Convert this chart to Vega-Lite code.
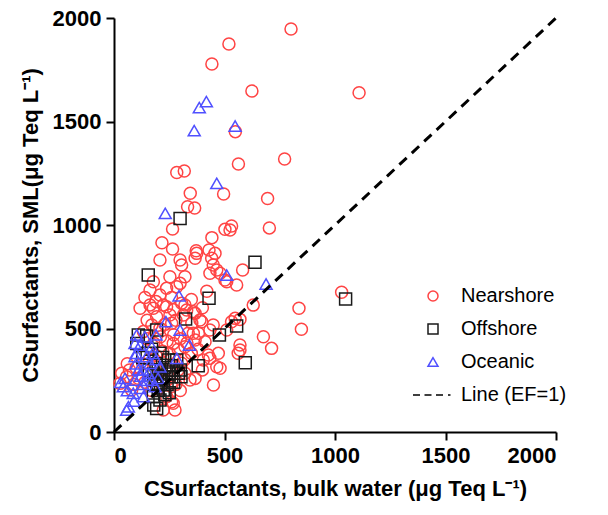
{
  "$schema": "https://vega.github.io/schema/vega-lite/v6.json",
  "width": 442,
  "height": 414,
  "autosize": "none",
  "padding": {"left": 114, "top": 18, "right": 52, "bottom": 83},
  "background": "white",
  "config": {
    "view": {"stroke": null},
    "font": "Liberation Sans",
    "axis": {
      "grid": false,
      "domainColor": "black",
      "domainWidth": 2,
      "tickColor": "black",
      "tickWidth": 2,
      "tickSize": 8,
      "labelFont": "Liberation Sans",
      "labelFontSize": 22,
      "labelFontWeight": "bold",
      "labelColor": "black",
      "titleFont": "Liberation Sans",
      "titleFontSize": 22,
      "titleFontWeight": "bold",
      "titleColor": "black"
    }
  },
  "datasets": {
    "pts": [
      {"x": 801, "y": 1947, "g": "Nearshore"},
      {"x": 520, "y": 1874, "g": "Nearshore"},
      {"x": 443, "y": 1778, "g": "Nearshore"},
      {"x": 624, "y": 1647, "g": "Nearshore"},
      {"x": 549, "y": 1451, "g": "Nearshore"},
      {"x": 1109, "y": 1639, "g": "Nearshore"},
      {"x": 772, "y": 1319, "g": "Nearshore"},
      {"x": 563, "y": 1295, "g": "Nearshore"},
      {"x": 284, "y": 1254, "g": "Nearshore"},
      {"x": 318, "y": 1261, "g": "Nearshore"},
      {"x": 496, "y": 1150, "g": "Nearshore"},
      {"x": 345, "y": 1153, "g": "Nearshore"},
      {"x": 695, "y": 1128, "g": "Nearshore"},
      {"x": 333, "y": 1088, "g": "Nearshore"},
      {"x": 365, "y": 1082, "g": "Nearshore"},
      {"x": 265, "y": 981, "g": "Nearshore"},
      {"x": 703, "y": 986, "g": "Nearshore"},
      {"x": 502, "y": 979, "g": "Nearshore"},
      {"x": 525, "y": 976, "g": "Nearshore"},
      {"x": 532, "y": 995, "g": "Nearshore"},
      {"x": 443, "y": 939, "g": "Nearshore"},
      {"x": 217, "y": 914, "g": "Nearshore"},
      {"x": 265, "y": 884, "g": "Nearshore"},
      {"x": 372, "y": 876, "g": "Nearshore"},
      {"x": 430, "y": 879, "g": "Nearshore"},
      {"x": 457, "y": 863, "g": "Nearshore"},
      {"x": 208, "y": 831, "g": "Nearshore"},
      {"x": 299, "y": 831, "g": "Nearshore"},
      {"x": 442, "y": 839, "g": "Nearshore"},
      {"x": 1030, "y": 675, "g": "Nearshore"},
      {"x": 837, "y": 598, "g": "Nearshore"},
      {"x": 848, "y": 496, "g": "Nearshore"},
      {"x": 676, "y": 460, "g": "Nearshore"},
      {"x": 713, "y": 404, "g": "Nearshore"},
      {"x": 630, "y": 613, "g": "Nearshore"},
      {"x": 570, "y": 544, "g": "Nearshore"},
      {"x": 548, "y": 549, "g": "Nearshore"},
      {"x": 532, "y": 533, "g": "Nearshore"},
      {"x": 570, "y": 420, "g": "Nearshore"},
      {"x": 570, "y": 396, "g": "Nearshore"},
      {"x": 465, "y": 315, "g": "Nearshore"},
      {"x": 480, "y": 308, "g": "Nearshore"},
      {"x": 450, "y": 227, "g": "Nearshore"},
      {"x": 344, "y": 251, "g": "Nearshore"},
      {"x": 261, "y": 146, "g": "Nearshore"},
      {"x": 223, "y": 106, "g": "Nearshore"},
      {"x": 404, "y": 348, "g": "Nearshore"},
      {"x": 427, "y": 372, "g": "Nearshore"},
      {"x": 434, "y": 493, "g": "Nearshore"},
      {"x": 449, "y": 517, "g": "Nearshore"},
      {"x": 510, "y": 726, "g": "Nearshore"},
      {"x": 480, "y": 767, "g": "Nearshore"},
      {"x": 449, "y": 807, "g": "Nearshore"},
      {"x": 555, "y": 710, "g": "Nearshore"},
      {"x": 582, "y": 783, "g": "Nearshore"},
      {"x": 374, "y": 863, "g": "Nearshore"},
      {"x": 306, "y": 807, "g": "Nearshore"},
      {"x": 321, "y": 750, "g": "Nearshore"},
      {"x": 253, "y": 750, "g": "Nearshore"},
      {"x": 163, "y": 686, "g": "Nearshore"},
      {"x": 238, "y": 694, "g": "Nearshore"},
      {"x": 299, "y": 718, "g": "Nearshore"},
      {"x": 118, "y": 598, "g": "Nearshore"},
      {"x": 178, "y": 598, "g": "Nearshore"},
      {"x": 238, "y": 605, "g": "Nearshore"},
      {"x": 306, "y": 622, "g": "Nearshore"},
      {"x": 359, "y": 581, "g": "Nearshore"},
      {"x": 389, "y": 541, "g": "Nearshore"},
      {"x": 359, "y": 477, "g": "Nearshore"},
      {"x": 57, "y": 267, "g": "Nearshore"},
      {"x": 27, "y": 235, "g": "Nearshore"},
      {"x": 80, "y": 203, "g": "Nearshore"},
      {"x": 178, "y": 726, "g": "Nearshore"},
      {"x": 284, "y": 702, "g": "Nearshore"},
      {"x": 208, "y": 662, "g": "Nearshore"},
      {"x": 163, "y": 614, "g": "Nearshore"},
      {"x": 223, "y": 614, "g": "Nearshore"},
      {"x": 321, "y": 614, "g": "Nearshore"},
      {"x": 193, "y": 557, "g": "Nearshore"},
      {"x": 253, "y": 565, "g": "Nearshore"},
      {"x": 314, "y": 565, "g": "Nearshore"},
      {"x": 171, "y": 517, "g": "Nearshore"},
      {"x": 261, "y": 525, "g": "Nearshore"},
      {"x": 133, "y": 485, "g": "Nearshore"},
      {"x": 208, "y": 501, "g": "Nearshore"},
      {"x": 268, "y": 428, "g": "Nearshore"},
      {"x": 321, "y": 412, "g": "Nearshore"},
      {"x": 35, "y": 284, "g": "Nearshore"},
      {"x": 238, "y": 171, "g": "Nearshore"},
      {"x": 268, "y": 139, "g": "Nearshore"},
      {"x": 276, "y": 106, "g": "Nearshore"},
      {"x": 306, "y": 332, "g": "Nearshore"},
      {"x": 321, "y": 284, "g": "Nearshore"},
      {"x": 367, "y": 839, "g": "Nearshore"},
      {"x": 465, "y": 783, "g": "Nearshore"},
      {"x": 434, "y": 767, "g": "Nearshore"},
      {"x": 502, "y": 734, "g": "Nearshore"},
      {"x": 329, "y": 589, "g": "Nearshore"},
      {"x": 367, "y": 573, "g": "Nearshore"},
      {"x": 397, "y": 533, "g": "Nearshore"},
      {"x": 352, "y": 525, "g": "Nearshore"},
      {"x": 510, "y": 493, "g": "Nearshore"},
      {"x": 382, "y": 477, "g": "Nearshore"},
      {"x": 336, "y": 477, "g": "Nearshore"},
      {"x": 367, "y": 444, "g": "Nearshore"},
      {"x": 412, "y": 436, "g": "Nearshore"},
      {"x": 562, "y": 380, "g": "Nearshore"},
      {"x": 472, "y": 380, "g": "Nearshore"},
      {"x": 434, "y": 356, "g": "Nearshore"},
      {"x": 367, "y": 259, "g": "Nearshore"},
      {"x": 150, "y": 450, "g": "Nearshore"},
      {"x": 180, "y": 430, "g": "Nearshore"},
      {"x": 210, "y": 460, "g": "Nearshore"},
      {"x": 240, "y": 440, "g": "Nearshore"},
      {"x": 270, "y": 470, "g": "Nearshore"},
      {"x": 300, "y": 450, "g": "Nearshore"},
      {"x": 330, "y": 430, "g": "Nearshore"},
      {"x": 290, "y": 400, "g": "Nearshore"},
      {"x": 250, "y": 380, "g": "Nearshore"},
      {"x": 220, "y": 390, "g": "Nearshore"},
      {"x": 190, "y": 370, "g": "Nearshore"},
      {"x": 160, "y": 350, "g": "Nearshore"},
      {"x": 130, "y": 330, "g": "Nearshore"},
      {"x": 100, "y": 310, "g": "Nearshore"},
      {"x": 70, "y": 300, "g": "Nearshore"},
      {"x": 110, "y": 260, "g": "Nearshore"},
      {"x": 140, "y": 240, "g": "Nearshore"},
      {"x": 200, "y": 280, "g": "Nearshore"},
      {"x": 230, "y": 300, "g": "Nearshore"},
      {"x": 260, "y": 320, "g": "Nearshore"},
      {"x": 290, "y": 300, "g": "Nearshore"},
      {"x": 320, "y": 350, "g": "Nearshore"},
      {"x": 350, "y": 380, "g": "Nearshore"},
      {"x": 380, "y": 400, "g": "Nearshore"},
      {"x": 400, "y": 300, "g": "Nearshore"},
      {"x": 280, "y": 230, "g": "Nearshore"},
      {"x": 300, "y": 200, "g": "Nearshore"},
      {"x": 240, "y": 250, "g": "Nearshore"},
      {"x": 260, "y": 220, "g": "Nearshore"},
      {"x": 170, "y": 200, "g": "Nearshore"},
      {"x": 90, "y": 230, "g": "Nearshore"},
      {"x": 60, "y": 330, "g": "Nearshore"},
      {"x": 150, "y": 540, "g": "Nearshore"},
      {"x": 230, "y": 520, "g": "Nearshore"},
      {"x": 280, "y": 540, "g": "Nearshore"},
      {"x": 190, "y": 630, "g": "Nearshore"},
      {"x": 260, "y": 650, "g": "Nearshore"},
      {"x": 270, "y": 590, "g": "Nearshore"},
      {"x": 140, "y": 650, "g": "Nearshore"},
      {"x": 350, "y": 640, "g": "Nearshore"},
      {"x": 400, "y": 600, "g": "Nearshore"},
      {"x": 420, "y": 680, "g": "Nearshore"},
      {"x": 155, "y": 758, "g": "Offshore"},
      {"x": 299, "y": 1031, "g": "Offshore"},
      {"x": 638, "y": 820, "g": "Offshore"},
      {"x": 430, "y": 646, "g": "Offshore"},
      {"x": 1048, "y": 642, "g": "Offshore"},
      {"x": 324, "y": 546, "g": "Offshore"},
      {"x": 555, "y": 512, "g": "Offshore"},
      {"x": 477, "y": 469, "g": "Offshore"},
      {"x": 594, "y": 335, "g": "Offshore"},
      {"x": 381, "y": 320, "g": "Offshore"},
      {"x": 303, "y": 267, "g": "Offshore"},
      {"x": 193, "y": 114, "g": "Offshore"},
      {"x": 110, "y": 469, "g": "Offshore"},
      {"x": 193, "y": 493, "g": "Offshore"},
      {"x": 148, "y": 464, "g": "Offshore"},
      {"x": 103, "y": 428, "g": "Offshore"},
      {"x": 208, "y": 380, "g": "Offshore"},
      {"x": 246, "y": 348, "g": "Offshore"},
      {"x": 284, "y": 348, "g": "Offshore"},
      {"x": 268, "y": 300, "g": "Offshore"},
      {"x": 223, "y": 267, "g": "Offshore"},
      {"x": 261, "y": 267, "g": "Offshore"},
      {"x": 193, "y": 235, "g": "Offshore"},
      {"x": 223, "y": 203, "g": "Offshore"},
      {"x": 178, "y": 171, "g": "Offshore"},
      {"x": 208, "y": 155, "g": "Offshore"},
      {"x": 186, "y": 251, "g": "Offshore"},
      {"x": 291, "y": 284, "g": "Offshore"},
      {"x": 170, "y": 400, "g": "Offshore"},
      {"x": 190, "y": 330, "g": "Offshore"},
      {"x": 230, "y": 310, "g": "Offshore"},
      {"x": 250, "y": 280, "g": "Offshore"},
      {"x": 200, "y": 300, "g": "Offshore"},
      {"x": 180, "y": 280, "g": "Offshore"},
      {"x": 210, "y": 230, "g": "Offshore"},
      {"x": 240, "y": 230, "g": "Offshore"},
      {"x": 270, "y": 240, "g": "Offshore"},
      {"x": 160, "y": 300, "g": "Offshore"},
      {"x": 220, "y": 360, "g": "Offshore"},
      {"x": 260, "y": 320, "g": "Offshore"},
      {"x": 200, "y": 200, "g": "Offshore"},
      {"x": 150, "y": 380, "g": "Offshore"},
      {"x": 180, "y": 130, "g": "Offshore"},
      {"x": 230, "y": 180, "g": "Offshore"},
      {"x": 300, "y": 300, "g": "Offshore"},
      {"x": 250, "y": 190, "g": "Offshore"},
      {"x": 210, "y": 260, "g": "Offshore"},
      {"x": 130, "y": 360, "g": "Offshore"},
      {"x": 418, "y": 1596, "g": "Oceanic"},
      {"x": 386, "y": 1567, "g": "Oceanic"},
      {"x": 363, "y": 1456, "g": "Oceanic"},
      {"x": 548, "y": 1478, "g": "Oceanic"},
      {"x": 465, "y": 1201, "g": "Oceanic"},
      {"x": 232, "y": 1056, "g": "Oceanic"},
      {"x": 510, "y": 758, "g": "Oceanic"},
      {"x": 688, "y": 715, "g": "Oceanic"},
      {"x": 294, "y": 658, "g": "Oceanic"},
      {"x": 235, "y": 533, "g": "Oceanic"},
      {"x": 299, "y": 493, "g": "Oceanic"},
      {"x": 341, "y": 420, "g": "Oceanic"},
      {"x": 284, "y": 356, "g": "Oceanic"},
      {"x": 103, "y": 469, "g": "Oceanic"},
      {"x": 118, "y": 420, "g": "Oceanic"},
      {"x": 95, "y": 364, "g": "Oceanic"},
      {"x": 50, "y": 259, "g": "Oceanic"},
      {"x": 42, "y": 219, "g": "Oceanic"},
      {"x": 87, "y": 187, "g": "Oceanic"},
      {"x": 57, "y": 106, "g": "Oceanic"},
      {"x": 95, "y": 428, "g": "Oceanic"},
      {"x": 171, "y": 412, "g": "Oceanic"},
      {"x": 148, "y": 364, "g": "Oceanic"},
      {"x": 163, "y": 332, "g": "Oceanic"},
      {"x": 208, "y": 315, "g": "Oceanic"},
      {"x": 110, "y": 300, "g": "Oceanic"},
      {"x": 95, "y": 251, "g": "Oceanic"},
      {"x": 155, "y": 284, "g": "Oceanic"},
      {"x": 171, "y": 251, "g": "Oceanic"},
      {"x": 118, "y": 211, "g": "Oceanic"},
      {"x": 133, "y": 171, "g": "Oceanic"},
      {"x": 65, "y": 122, "g": "Oceanic"},
      {"x": 186, "y": 219, "g": "Oceanic"},
      {"x": 140, "y": 460, "g": "Oceanic"},
      {"x": 190, "y": 470, "g": "Oceanic"},
      {"x": 130, "y": 300, "g": "Oceanic"},
      {"x": 100, "y": 330, "g": "Oceanic"},
      {"x": 150, "y": 250, "g": "Oceanic"},
      {"x": 120, "y": 270, "g": "Oceanic"},
      {"x": 200, "y": 260, "g": "Oceanic"},
      {"x": 90, "y": 150, "g": "Oceanic"},
      {"x": 60, "y": 200, "g": "Oceanic"},
      {"x": 100, "y": 380, "g": "Oceanic"},
      {"x": 175, "y": 380, "g": "Oceanic"},
      {"x": 190, "y": 350, "g": "Oceanic"},
      {"x": 30, "y": 240, "g": "Oceanic"},
      {"x": 130, "y": 230, "g": "Oceanic"}
    ],
    "line": [
      {"x": 0, "y": 0},
      {"x": 2000, "y": 2000}
    ]
  },
  "layer": [
    {
      "data": {"name": "pts"},
      "mark": {"type": "point", "filled": false, "strokeWidth": 1.5, "size": 144, "opacity": 1},
      "encoding": {
        "x": {
          "field": "x", "type": "quantitative",
          "scale": {"domain": [0, 2000], "nice": false},
          "axis": {"values": [0, 500, 1000, 1500, 2000], "format": "d", "title": "CSurfactants, bulk water (μg Teq L⁻¹)", "labelPadding": 5, "titlePadding": 12}
        },
        "y": {
          "field": "y", "type": "quantitative",
          "scale": {"domain": [0, 2000], "nice": false},
          "axis": {"values": [0, 500, 1000, 1500, 2000], "format": "d", "title": "CSurfactants, SML(μg Teq L⁻¹)", "labelPadding": 5, "titlePadding": 10}
        },
        "color": {
          "field": "g", "type": "nominal",
          "scale": {
            "domain": ["Nearshore", "Offshore", "Oceanic", "Line (EF=1)"],
            "range": ["#ff4444", "#1a1a1a", "#5050ff", "#000000"]
          },
          "legend": {
            "orient": "none",
            "legendX": 309,
            "legendY": 268,
            "title": null,
            "labelFont": "Liberation Sans",
            "labelFontSize": 20,
            "labelColor": "black",
            "symbolSize": 100,
            "symbolStrokeWidth": 1.5,
            "labelOffset": 18,
            "rowPadding": 13,
            "encode": {
              "symbols": {"update": {"strokeWidth": {"signal": "datum.value === 'Line (EF=1)' ? 3 : 1.5"}}}
            }
          }
        },
        "shape": {
          "field": "g", "type": "nominal",
          "scale": {
            "domain": ["Nearshore", "Offshore", "Oceanic", "Line (EF=1)"],
            "range": ["circle", "square", "triangle-up", "M-4,0H-2.6M-1.7,0H-0.3M0.6,0H2M3,0H3.5"]
          },
          "legend": {
            "orient": "none",
            "legendX": 309,
            "legendY": 268,
            "title": null,
            "labelFont": "Liberation Sans",
            "labelFontSize": 20,
            "labelColor": "black",
            "symbolSize": 100,
            "symbolStrokeWidth": 1.5,
            "labelOffset": 18,
            "rowPadding": 13,
            "encode": {
              "symbols": {"update": {"strokeWidth": {"signal": "datum.value === 'Line (EF=1)' ? 3 : 1.5"}}}
            }
          }
        }
      }
    },
    {
      "data": {"name": "line"},
      "mark": {"type": "line", "color": "black", "strokeWidth": 3, "strokeDash": [10, 7]},
      "encoding": {
        "x": {"field": "x", "type": "quantitative"},
        "y": {"field": "y", "type": "quantitative"}
      }
    }
  ]
}
